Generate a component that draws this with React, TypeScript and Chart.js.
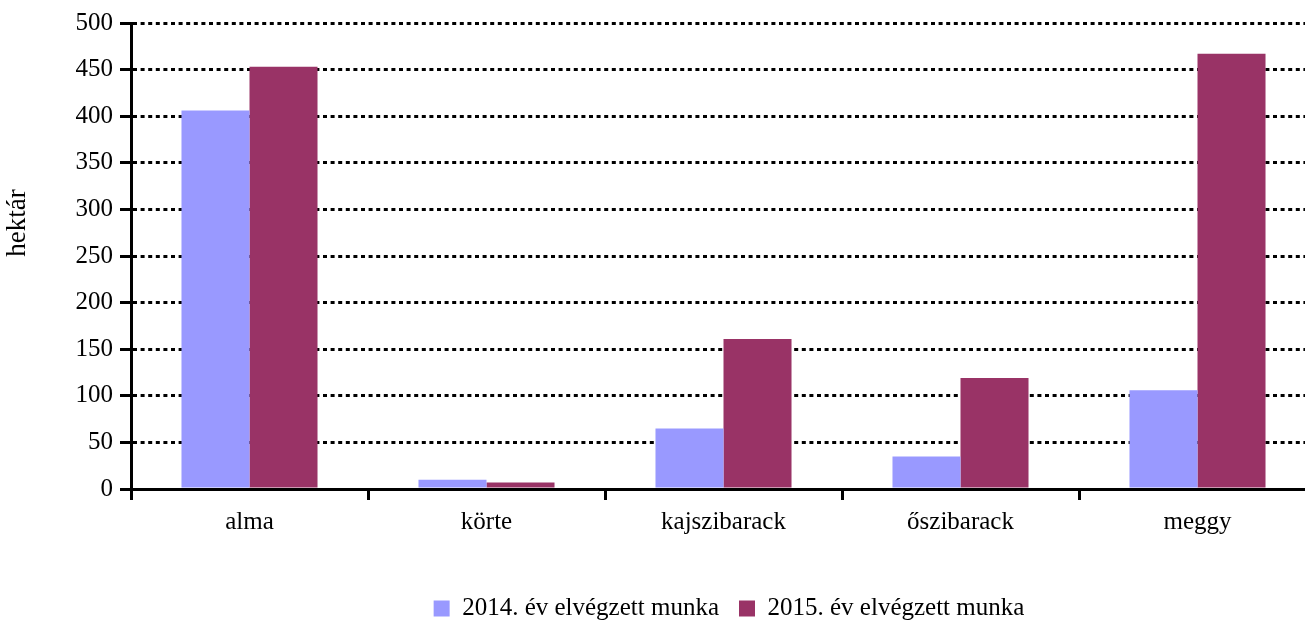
import React, { useEffect, useRef } from "react";
import { Chart, registerables } from "chart.js";

Chart.register(...registerables);

const categories = ["alma", "körte", "kajszibarack", "őszibarack", "meggy"];
const series2014 = [406, 10, 65, 35, 106];
const series2015 = [453, 7, 161, 119, 467];
const seriesLabels = ["2014. év elvégzett munka", "2015. év elvégzett munka"];
const yTitle = "hektár";

const FONT = "'Liberation Serif', 'Times New Roman', serif";

const yTitlePlugin = {
  id: "yTitlePlugin",
  afterDraw(chart: any) {
    const ctx = chart.ctx;
    ctx.save();
    ctx.font = `27px ${FONT}`;
    ctx.fillStyle = "#000";
    ctx.textAlign = "center";
    ctx.textBaseline = "middle";
    ctx.translate(18, 223);
    ctx.rotate(-Math.PI / 2);
    ctx.fillText(yTitle, 0, 0);
    ctx.restore();
  },
};

export default function App() {
  const ref = useRef<HTMLCanvasElement>(null);

  useEffect(() => {
    if (!ref.current) return;
    const chart = new Chart(ref.current, {
      type: "bar",
      data: {
        labels: categories,
        datasets: [
          {
            label: seriesLabels[0],
            data: series2014,
            backgroundColor: "#9999FF",
            borderWidth: 0,
            categoryPercentage: 0.574,
            barPercentage: 1,
          },
          {
            label: seriesLabels[1],
            data: series2015,
            backgroundColor: "#993366",
            borderWidth: 0,
            categoryPercentage: 0.574,
            barPercentage: 1,
          },
        ],
      },
      options: {
        responsive: false,
        animation: false,
        layout: { padding: { top: 23, left: 0, right: 0, bottom: 0 } },
        plugins: {
          tooltip: { enabled: false },
          legend: {
            position: "bottom",
            labels: {
              color: "#000",
              font: { family: FONT, size: 25 },
              boxWidth: 16,
              boxHeight: 16,
              padding: 20,
            },
          },
        },
        scales: {
          x: {
            grid: {
              display: true,
              drawOnChartArea: false,
              drawTicks: true,
              tickLength: 11,
              tickWidth: 3,
              tickColor: "#000",
              color: "#000",
              offset: true,
            },
            border: { display: true, color: "#000", width: 3, z: 1 },
            ticks: {
              color: "#000",
              font: { family: FONT, size: 25 },
              padding: 7,
              maxRotation: 0,
            },
            afterFit: (s: any) => {
              s.height = 87;
            },
          },
          y: {
            min: 0,
            max: 500,
            ticks: {
              stepSize: 50,
              color: "#000",
              font: { family: FONT, size: 25 },
              padding: 7,
            },
            grid: {
              color: "#000",
              lineWidth: 3,
              drawTicks: true,
              tickLength: 11,
              tickWidth: 3,
              tickColor: "#000",
            },
            border: { display: true, color: "#000", width: 3, dash: [4, 3.6] },
            afterFit: (s: any) => {
              s.width = 131;
            },
          },
          y2: {
            position: "right",
            min: 0,
            max: 1,
            display: true,
            grid: { display: false },
            border: { display: false },
            ticks: { display: false },
            afterFit: (s: any) => {
              s.width = 142;
            },
          },
        },
      },
      plugins: [yTitlePlugin],
    } as any);
    return () => chart.destroy();
  }, []);

  return (
    <div
      style={{
        position: "fixed",
        left: 0,
        top: 0,
        width: 1305,
        height: 623,
        overflow: "hidden",
        background: "#fff",
      }}
    >
      <canvas ref={ref} width={1458} height={631} style={{ display: "block" }} />
    </div>
  );
}
